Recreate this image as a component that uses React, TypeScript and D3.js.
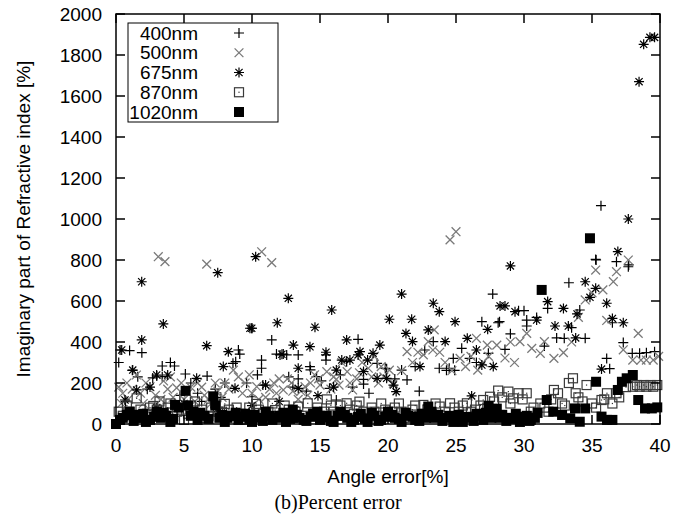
import React from 'react';
import * as d3 from 'd3';

type Pt = [number, number];

const xTicks = [0, 5, 10, 15, 20, 25, 30, 35, 40];
const yTicks = [0, 200, 400, 600, 800, 1000, 1200, 1400, 1600, 1800, 2000];
const seriesNames = ['400nm', '500nm', '675nm', '870nm', '1020nm'];
const xTitle = 'Angle error[%]';
const yTitle = 'Imaginary part of Refractive index [%]';
const caption = '(b)Percent error';

const s400: Pt[] = [
  [0.2, 300], [0.3, 361], [0.7, 109], [1.0, 358], [1.2, 262], [1.6, 230], [1.9, 348], [2.3, 170], [2.7, 225],
  [3.0, 234], [3.4, 231], [3.4, 283], [4.0, 300], [4.3, 283], [4.7, 140], [5.1, 244], [5.5, 200], [6.0, 150],
  [6.3, 110], [6.7, 234], [7.3, 170], [7.7, 130], [8.0, 200], [8.6, 296], [8.8, 304], [9.0, 361], [9.1, 341],
  [9.6, 200], [10.0, 133], [10.0, 467], [10.4, 240], [10.7, 312], [10.7, 272], [10.8, 190], [11.45, 410],
  [11.8, 341], [12.06, 337], [12.3, 341], [12.55, 337], [12.7, 230], [13.0, 180], [13.4, 337], [13.4, 220],
  [14.0, 160], [14.3, 264], [14.26, 280], [14.75, 231], [15.1, 210], [15.44, 337], [15.44, 312], [15.7, 174],
  [16.2, 117], [16.5, 240], [16.96, 304], [17.4, 180], [17.8, 413], [18.2, 218], [18.2, 195], [18.6, 150],
  [19.2, 296], [19.8, 272], [19.9, 270], [20.5, 220], [21.0, 263], [21.4, 215], [22.0, 280], [22.3, 160],
  [22.7, 361], [23.33, 402], [23.77, 272], [24.3, 262], [24.5, 272], [24.8, 320], [24.9, 262], [25.42, 369],
  [26.0, 320], [26.5, 300], [26.9, 499], [27.38, 345], [27.7, 634], [28.1, 494], [28.2, 499], [28.6, 364],
  [29.0, 440], [29.6, 553], [30.0, 553], [30.2, 507], [30.2, 478], [30.93, 520], [31.5, 380], [31.74, 564],
  [32.4, 420], [32.96, 418], [33.3, 689], [33.5, 470], [34.1, 556], [34.5, 418], [35.27, 803], [35.3, 800],
  [35.66, 1065], [36.08, 320], [36.3, 270], [36.5, 494], [36.8, 792], [37.3, 397], [37.67, 767], [37.7, 776],
  [37.96, 345], [38.5, 345], [39.0, 348], [39.6, 353],
];

const s500: Pt[] = [
  [0.2, 180], [0.4, 100], [0.5, 150], [0.8, 200], [0.9, 120], [1.2, 170], [1.5, 239], [1.8, 150], [2.0, 100],
  [2.2, 200], [2.5, 182], [2.9, 140], [3.11, 816], [3.3, 120], [3.5, 210], [3.6, 792], [3.8, 170], [4.0, 230],
  [4.2, 130], [4.46, 176], [4.8, 200], [5.0, 120], [5.3, 150], [5.5, 180], [5.8, 110], [6.0, 200], [6.3, 180],
  [6.5, 140], [6.67, 780], [6.8, 120], [7.0, 100], [7.3, 200], [7.5, 160], [7.8, 130], [8.0, 200], [8.3, 170],
  [8.63, 263], [9.0, 230], [9.3, 150], [9.5, 200], [9.8, 240], [10.0, 150], [10.35, 182], [10.5, 120],
  [10.71, 840], [11.0, 130], [11.3, 170], [11.45, 787], [11.6, 200], [11.8, 150], [12.0, 220], [12.3, 166],
  [12.6, 220], [12.9, 200], [13.0, 160], [13.4, 120], [13.6, 160], [13.9, 182], [14.1, 140], [14.3, 200],
  [14.6, 240], [14.9, 220], [15.0, 190], [15.5, 255], [15.8, 170], [16.0, 230], [16.2, 218], [16.4, 190],
  [16.6, 300], [17.0, 255], [17.2, 200], [17.4, 166], [17.7, 220], [17.9, 250], [18.1, 300], [18.55, 272],
  [18.8, 230], [19.0, 330], [19.3, 200], [19.5, 280], [19.7, 230], [20.1, 263], [20.4, 198], [21.0, 260],
  [21.4, 353], [21.8, 300], [22.2, 350], [22.6, 337], [22.96, 402], [23.3, 361], [23.4, 459], [23.8, 350],
  [24.2, 300], [24.56, 898], [24.7, 260], [25.0, 938], [25.3, 320], [25.7, 280], [26.1, 330], [26.5, 418],
  [26.6, 263], [27.0, 300], [27.3, 385], [27.4, 330], [28.0, 385], [28.6, 322], [29.0, 400], [29.3, 300],
  [29.7, 402], [30.2, 442], [30.57, 369], [31.2, 345], [31.5, 402], [32.2, 320], [32.9, 348], [33.5, 400],
  [34.0, 520], [34.5, 605], [35.0, 640], [35.27, 751], [35.8, 654], [36.08, 505], [36.57, 694], [36.8, 743],
  [37.3, 362], [37.67, 800], [38.0, 312], [38.4, 442], [38.6, 312], [39.0, 312], [39.5, 312], [39.9, 330],
];

const s675: Pt[] = [
  [0.42, 361], [0.66, 117], [1.23, 263], [1.52, 166], [1.89, 410], [1.89, 694], [2.5, 180], [2.99, 239],
  [3.0, 80], [3.48, 488], [3.8, 239], [5.0, 100], [5.93, 223], [6.67, 382], [7.48, 738], [7.5, 60], [7.89, 280],
  [8.26, 353], [8.75, 174], [9.85, 467], [9.98, 467], [10.0, 90], [10.27, 816], [11.0, 190], [11.86, 494],
  [12.0, 110], [12.2, 340], [12.67, 613], [13.04, 385], [13.4, 272], [13.4, 174], [14.26, 377], [14.63, 472],
  [14.85, 138], [15.44, 350], [15.86, 556], [16.0, 180], [16.2, 263], [16.6, 312], [16.96, 410], [17.2, 312],
  [17.8, 337], [17.94, 353], [18.2, 256], [18.5, 312], [18.9, 345], [19.2, 223], [19.4, 385], [19.9, 223],
  [20.1, 511], [20.4, 190], [20.6, 158], [21.0, 634], [21.32, 442], [21.74, 511], [21.8, 402], [22.35, 280],
  [22.96, 459], [23.33, 589], [23.77, 548], [24.2, 402], [24.93, 499], [25.83, 418], [26.15, 137], [26.5, 361],
  [26.9, 288], [27.33, 462], [27.74, 280], [28.24, 576], [28.6, 576], [29.0, 771], [29.34, 548], [30.93, 507],
  [31.74, 597], [32.28, 478], [32.9, 564], [33.26, 478], [33.8, 420], [33.9, 537], [34.5, 694], [34.85, 618],
  [35.27, 662], [35.7, 268], [36.08, 589], [36.5, 515], [36.9, 841], [37.3, 494], [37.67, 1000], [38.46, 1670],
  [38.8, 1852], [39.26, 1886], [39.6, 1886],
];

const s870: Pt[] = [
  [0.2, 60], [0.5, 40], [0.8, 90], [1.0, 60], [1.3, 40], [1.52, 125], [1.8, 70], [2.0, 30], [2.3, 50], [2.5, 80],
  [2.74, 88], [3.0, 70], [3.2, 110], [3.5, 50], [3.8, 80], [4.0, 100], [4.2, 40], [4.5, 60], [4.8, 70], [5.0, 20],
  [5.3, 50], [5.5, 90], [5.8, 110], [6.0, 50], [6.3, 70], [6.5, 30], [6.8, 40], [7.0, 80], [7.3, 100], [7.5, 60],
  [7.8, 60], [8.0, 98], [8.3, 70], [8.5, 40], [8.87, 80], [9.2, 50], [9.5, 20], [9.8, 80], [10.3, 98], [10.5, 70],
  [10.8, 50], [11.2, 60], [11.5, 100], [11.7, 68], [12.2, 40], [12.4, 90], [12.7, 70], [13.0, 30], [13.2, 60],
  [13.4, 85], [13.8, 40], [14.1, 101], [14.5, 50], [14.8, 80], [15.0, 40], [15.3, 60], [15.5, 120], [15.8, 90],
  [16.0, 60], [16.3, 40], [16.5, 90], [16.96, 101], [17.2, 70], [17.5, 50], [17.7, 90], [17.9, 109], [18.2, 60],
  [18.5, 30], [18.8, 80], [19.0, 60], [19.3, 40], [19.5, 100], [19.8, 70], [20.0, 40], [20.3, 60], [20.5, 80],
  [20.8, 100], [21.0, 60], [21.3, 50], [21.5, 30], [21.8, 70], [22.0, 90], [22.3, 40], [22.6, 93], [22.9, 70],
  [23.2, 50], [23.5, 100], [23.8, 85], [24.2, 60], [24.56, 101], [24.9, 80], [25.2, 60], [25.5, 90], [25.8, 101],
  [26.1, 60], [26.4, 70], [26.8, 90], [27.0, 117], [27.3, 80], [27.5, 133], [27.8, 110], [28.1, 163],
  [28.4, 130], [28.85, 158], [29.0, 100], [29.2, 125], [29.6, 150], [29.9, 120], [30.2, 150], [30.5, 60],
  [30.7, 80], [31.2, 100], [31.5, 80], [31.8, 60], [32.0, 120], [32.2, 166], [32.5, 150], [32.8, 100],
  [33.0, 90], [33.3, 200], [33.6, 223], [33.8, 150], [34.0, 130], [34.3, 110], [34.6, 190], [35.0, 100],
  [35.3, 80], [35.7, 117], [35.9, 120], [36.1, 150], [36.5, 100], [36.8, 150], [37.0, 130], [37.5, 180],
  [38.0, 182], [38.3, 190], [38.5, 182], [38.8, 190], [39.0, 182], [39.3, 190], [39.5, 182], [39.8, 190],
];

const s1020: Pt[] = [
  [0.0, 0], [0.3, 20], [0.5, 30], [0.79, 44], [1.0, 60], [1.3, 15], [1.5, 45], [1.7, 30], [2.0, 50], [2.2, 10],
  [2.5, 20], [2.8, 35], [3.0, 60], [3.3, 30], [3.5, 55], [3.7, 40], [4.0, 10], [4.2, 25], [4.34, 93], [4.6, 80],
  [5.12, 162], [5.3, 90], [5.5, 40], [5.7, 60], [6.0, 20], [6.2, 55], [6.5, 40], [6.8, 25], [7.15, 135],
  [7.3, 90], [7.6, 30], [7.8, 45], [8.0, 10], [8.2, 30], [8.5, 40], [8.8, 55], [9.0, 20], [9.2, 35], [9.5, 50],
  [9.8, 25], [10.0, 10], [10.2, 45], [10.5, 30], [10.8, 15], [11.0, 60], [11.3, 40], [11.5, 20], [11.8, 30],
  [12.0, 40], [12.3, 55], [12.5, 10], [12.8, 25], [13.0, 70], [13.3, 45], [13.5, 30], [13.8, 20], [14.0, 15],
  [14.3, 35], [14.5, 50], [14.8, 60], [15.0, 20], [15.3, 30], [15.5, 40], [15.8, 15], [16.0, 10], [16.3, 40],
  [16.5, 60], [16.8, 45], [17.0, 30], [17.3, 10], [17.5, 20], [17.8, 35], [18.0, 50], [18.3, 25], [18.5, 10],
  [18.8, 55], [19.0, 40], [19.3, 15], [19.5, 20], [19.8, 35], [20.0, 60], [20.3, 45], [20.5, 30], [20.8, 25],
  [21.0, 10], [21.3, 55], [21.5, 40], [21.8, 35], [22.0, 20], [22.3, 15], [22.5, 50], [22.8, 30], [22.96, 85],
  [23.2, 60], [23.4, 30], [23.7, 45], [24.0, 15], [24.2, 30], [24.5, 40], [24.8, 10], [25.0, 20], [25.2, 45],
  [25.5, 10], [25.8, 35], [26.0, 30], [26.3, 15], [26.5, 50], [26.8, 40], [27.0, 20], [27.2, 55], [27.4, 88],
  [27.6, 30], [27.8, 60], [28.0, 75], [28.2, 30], [28.4, 45], [28.7, 15], [28.9, 30], [29.2, 25], [29.4, 50],
  [29.7, 10], [29.9, 35], [30.2, 40], [30.4, 15], [30.5, 20], [30.8, 30], [31.0, 54], [31.3, 654], [31.67, 117],
  [32.15, 60], [32.8, 44], [33.4, 28], [33.75, 76], [34.1, 11], [34.5, 76], [34.85, 906], [35.3, 206],
  [35.7, 36], [36.1, 20], [36.5, 20], [36.9, 166], [37.2, 206], [37.55, 223], [38.0, 239], [38.4, 117],
  [38.9, 76], [39.4, 76], [39.8, 81],
];

const sans = '"Liberation Sans", Arial, Helvetica, sans-serif';
const serif = '"Liberation Serif", "Times New Roman", serif';

function plusPath(cx: number, cy: number, r: number) {
  return `M${cx - r},${cy}H${cx + r}M${cx},${cy - r}V${cy + r}`;
}
function crossPath(cx: number, cy: number, r: number) {
  return `M${cx - r},${cy - r}L${cx + r},${cy + r}M${cx - r},${cy + r}L${cx + r},${cy - r}`;
}

function Marker({ kind, cx, cy }: { kind: number; cx: number; cy: number }) {
  if (kind === 0) return <path d={plusPath(cx, cy, 5)} stroke="#000" strokeWidth={1.2} fill="none" />;
  if (kind === 1) return <path d={crossPath(cx, cy, 4.4)} stroke="#7a7a7a" strokeWidth={1.3} fill="none" />;
  if (kind === 2)
    return (
      <path d={plusPath(cx, cy, 5) + crossPath(cx, cy, 3.6)} stroke="#000" strokeWidth={1.2} fill="none" />
    );
  if (kind === 3)
    return (
      <g>
        <rect x={cx - 4.5} y={cy - 4.5} width={9} height={9} fill="none" stroke="#3a3a3a" strokeWidth={1.2} />
        <rect x={cx - 0.6} y={cy - 0.6} width={1.2} height={1.2} fill="#333" />
      </g>
    );
  return <rect x={cx - 5} y={cy - 5} width={10} height={10} fill="#000" />;
}

export default function App() {
  const x = d3.scaleLinear().domain([0, 40]).range([116, 660]);
  const y = d3.scaleLinear().domain([0, 2000]).range([424, 14]);
  const [x0, x1] = x.range();
  const [y0, y1] = y.range();
  const tick = 9;
  const allSeries = [s400, s500, s675, s870, s1020];
  const legendRowY = d3.scaleLinear().domain([0, 4]).range([33, 112]);

  return (
    <svg
      width={691}
      height={515}
      style={{ position: 'absolute', left: 0, top: 0, background: '#fff' }}
      fontFamily={sans}
    >
      <rect x={0} y={0} width={691} height={515} fill="#fff" />
      {allSeries.map((s, k) => (
        <g key={k}>
          {s.map((p, i) => (
            <Marker key={i} kind={k} cx={x(p[0])} cy={y(p[1])} />
          ))}
        </g>
      ))}
      {xTicks.map((t) => (
        <g key={'xt' + t}>
          <line x1={x(t)} x2={x(t)} y1={y0} y2={y0 - tick} stroke="#000" strokeWidth={1.5} />
          <line x1={x(t)} x2={x(t)} y1={y1} y2={y1 + tick} stroke="#000" strokeWidth={1.5} />
          <text x={x(t)} y={445} fontSize={19} textAnchor="middle" dominantBaseline="central" fill="#000">
            {t}
          </text>
        </g>
      ))}
      {yTicks.map((t) => (
        <g key={'yt' + t}>
          <line x1={x0} x2={x0 + tick} y1={y(t)} y2={y(t)} stroke="#000" strokeWidth={1.5} />
          <line x1={x1} x2={x1 - tick} y1={y(t)} y2={y(t)} stroke="#000" strokeWidth={1.5} />
          <text x={102} y={y(t)} fontSize={19} textAnchor="end" dominantBaseline="central" fill="#000">
            {t}
          </text>
        </g>
      ))}
      <rect x={x0} y={y1} width={x1 - x0} height={y0 - y1} fill="none" stroke="#000" strokeWidth={1.5} />
      <rect x={128} y={23} width={150} height={99} fill="#fff" stroke="#000" strokeWidth={1} />
      {seriesNames.map((n, k) => (
        <g key={n}>
          <text x={198} y={legendRowY(k)} fontSize={19} textAnchor="end" dominantBaseline="central" fill="#000">
            {n}
          </text>
          <Marker kind={k} cx={239} cy={legendRowY(k)} />
        </g>
      ))}
      <text x={(x0 + x1) / 2} y={476} fontSize={19} textAnchor="middle" dominantBaseline="central" fill="#000">
        {xTitle}
      </text>
      <text
        transform={`translate(23, ${(y0 + y1) / 2}) rotate(-90)`}
        fontSize={19}
        textAnchor="middle"
        dominantBaseline="central"
        fill="#000"
      >
        {yTitle}
      </text>
      <text x={338} y={502} fontSize={20} textAnchor="middle" dominantBaseline="central" fontFamily={serif} fill="#000">
        {caption}
      </text>
    </svg>
  );
}
